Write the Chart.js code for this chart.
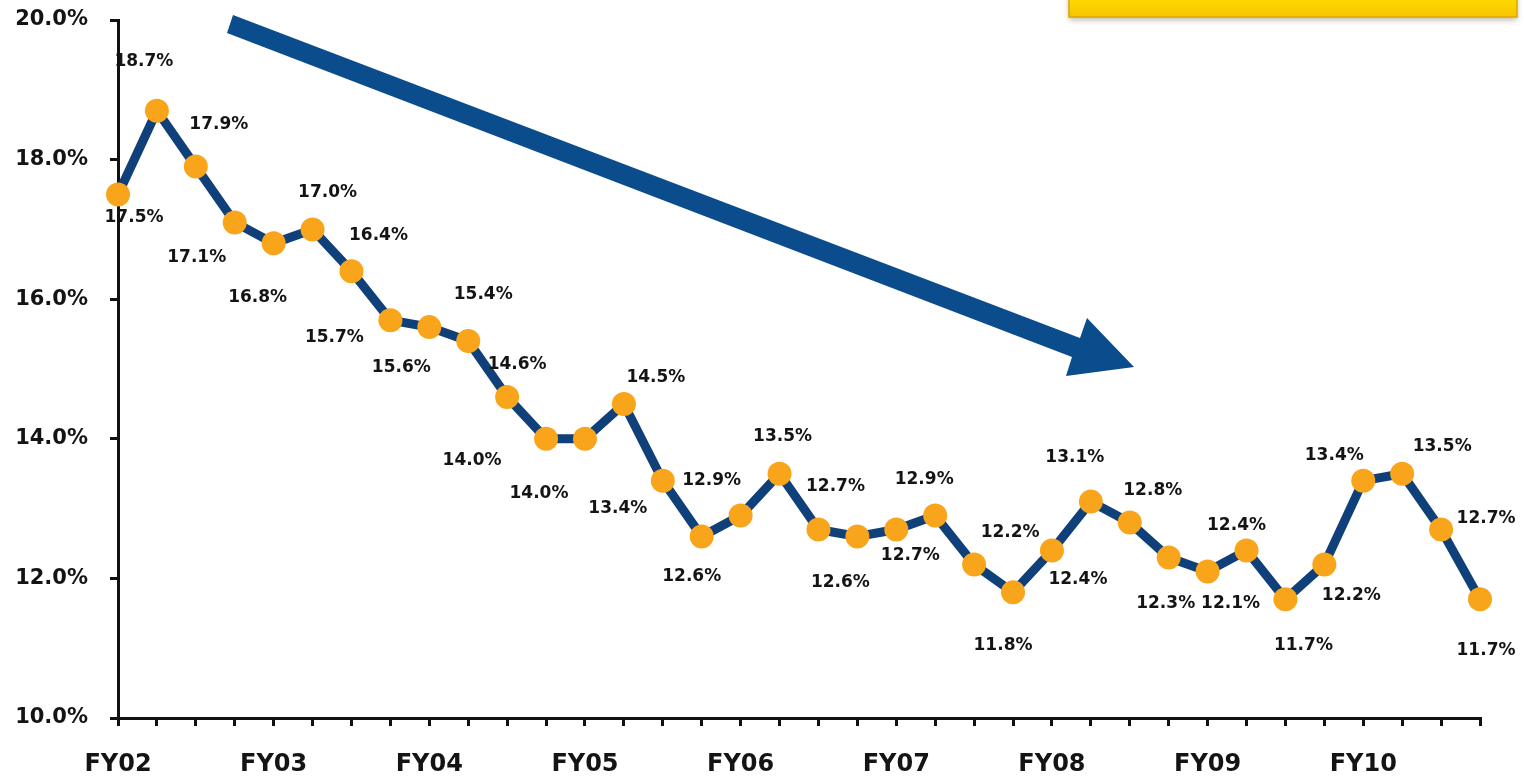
<!DOCTYPE html>
<html>
<head>
<meta charset="utf-8">
<script src="https://cdn.jsdelivr.net/npm/chart.js@4/dist/chart.umd.min.js"></script>
<style>
  html, body { margin: 0; padding: 0; background: #fff; }
  #wrap { width: 1529px; height: 777px; position: relative; }
</style>
</head>
<body>
<div id="wrap"><canvas id="ratio"></canvas></div>
<script>
// quarterly values, FY02 Q1 .. FY10 Q4
var quarters = [];
var years = ["FY02", "FY03", "FY04", "FY05", "FY06", "FY07", "FY08", "FY09", "FY10"];
for (var y = 0; y < years.length; y++) {
  for (var q = 1; q <= 4; q++) quarters.push(years[y] + " Q" + q);
}

var values = [17.5, 18.7, 17.9, 17.1, 16.8, 17.0, 16.4, 15.7, 15.6, 15.4, 14.6, 14.0,
              14.0, 14.5, 13.4, 12.6, 12.9, 13.5, 12.7, 12.6, 12.7, 12.9, 12.2, 11.8,
              12.4, 13.1, 12.8, 12.3, 12.1, 12.4, 11.7, 12.2, 13.4, 13.5, 12.7, 11.7];

var yTicks = [10, 12, 14, 16, 18, 20];

// where each value label sits relative to its point (px)
var labelOffsets = [
  [16, 23], [-13, -49], [23, -42], [-38, 35], [-16, 54], [15, -37],
  [27, -36], [-56, 17], [-28, 40], [15, -47], [10, -32], [-74, 22],
  [-46, 55], [32, -26], [-45, 28], [-10, 40], [-29, -35], [3, -37],
  [17, -43], [-17, 46], [14, 26], [-11, -36], [36, -32], [-10, 53],
  [26, 29], [-16, -44], [23, -32], [-3, 46], [23, 32], [-10, -25],
  [18, 46], [27, 31], [-29, -25], [40, -27], [45, -11], [6, 51]
];

var navy = "#0f4079";
var orange = "#f9a51b";
var labelFont = "bold 17px 'DejaVu Sans'";

var decorations = {
  id: "decorations",
  beforeDraw: function(chart) {
    var ctx = chart.ctx;
    ctx.save();
    // yellow banner, cut off by the top edge
    ctx.shadowColor = "rgba(80,60,0,0.35)";
    ctx.shadowBlur = 6;
    ctx.shadowOffsetY = 3;
    var g = ctx.createLinearGradient(0, 0, 0, 17);
    g.addColorStop(0, "#ffd700");
    g.addColorStop(1, "#f5c400");
    ctx.fillStyle = g;
    ctx.fillRect(1069, -10, 448, 27);
    ctx.shadowColor = "transparent";
    ctx.strokeStyle = "#d9a600";
    ctx.lineWidth = 1.5;
    ctx.strokeRect(1069, -10, 448, 27);

    // downward trend arrow
    ctx.fillStyle = "#0b4c8c";
    ctx.beginPath();
    ctx.moveTo(233, 15);
    ctx.lineTo(1080, 338);
    ctx.lineTo(1087, 318);
    ctx.lineTo(1134, 367);
    ctx.lineTo(1066, 376);
    ctx.lineTo(1072, 357);
    ctx.lineTo(227, 33);
    ctx.closePath();
    ctx.fill();
    ctx.restore();
  },
  afterDatasetsDraw: function(chart) {
    var ctx = chart.ctx;
    var meta = chart.getDatasetMeta(0);
    ctx.save();
    ctx.font = labelFont;
    ctx.fillStyle = "#141414";
    ctx.textAlign = "center";
    ctx.textBaseline = "middle";
    for (var i = 0; i < meta.data.length; i++) {
      var pt = meta.data[i];
      var off = labelOffsets[i];
      ctx.fillText(values[i].toFixed(1) + "%", pt.x + off[0], pt.y + off[1]);
    }
    ctx.restore();
  }
};

new Chart("ratio", {
  type: "line",
  data: {
    labels: quarters,
    datasets: [{
      data: values,
      borderColor: navy,
      borderWidth: 9,
      backgroundColor: orange,
      pointBackgroundColor: orange,
      pointBorderColor: orange,
      pointBorderWidth: 0,
      pointRadius: 12,
      tension: 0,
      fill: false,
      clip: false
    }]
  },
  plugins: [decorations],
  options: {
    responsive: true,
    maintainAspectRatio: false,
    animation: false,
    layout: { autoPadding: false, padding: { top: 20, right: 49, left: 0, bottom: 0 } },
    plugins: {
      legend: { display: false },
      tooltip: { enabled: false }
    },
    scales: {
      x: {
        offset: false,
        border: { color: "#111", width: 3 },
        grid: { display: true, drawOnChartArea: false, color: "#111", lineWidth: 3, tickLength: 8 },
        ticks: {
          autoSkip: false,
          maxRotation: 0,
          padding: 24,
          color: "#141414",
          font: { family: "DejaVu Sans", size: 24, weight: "bold" },
          callback: function(v, i) { return i % 4 === 0 ? years[i / 4] : ""; }
        },
        afterFit: function(s) { s.height = 59; s.paddingLeft = 0; s.paddingRight = 0; }
      },
      y: {
        min: yTicks[0],
        max: yTicks[yTicks.length - 1],
        border: { color: "#111", width: 3 },
        grid: { display: true, drawOnChartArea: false, color: "#111", lineWidth: 3, tickLength: 8 },
        afterBuildTicks: function(s) { s.ticks = yTicks.map(function(v) { return { value: v }; }); },
        ticks: {
          padding: 22,
          color: "#141414",
          font: { family: "DejaVu Sans", size: 21, weight: "bold" },
          callback: function(v) { return v.toFixed(1) + "%"; }
        },
        // keep the tick padding from pushing the plot area down
        afterFit: function(s) { s.width = 118; s.paddingTop = 0; s.paddingBottom = 0; }
      }
    }
  }
});
</script>
</body>
</html>
